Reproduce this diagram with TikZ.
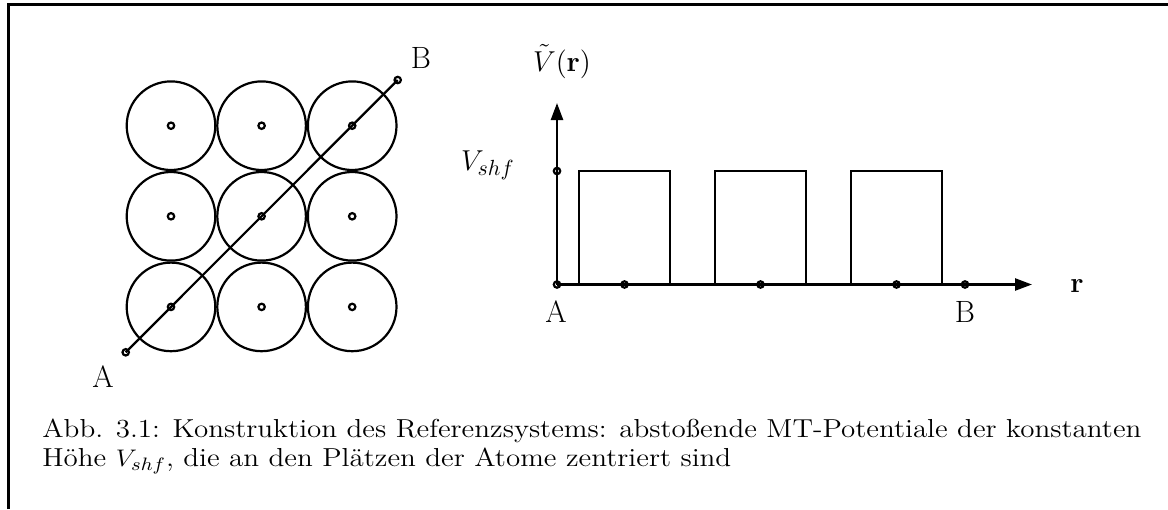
\documentclass[tikz,border=0pt]{standalone}
\usepackage{amsmath}
\usepackage{amssymb}
\usepackage{graphicx}
\usetikzlibrary{arrows.meta}

\begin{document}
\begin{tikzpicture}[x=0.5pt, y=-0.5pt, >={Triangle[length=8.5pt, width=6pt]},
    linie/.style={line width=1.1pt},
    achse/.style={line width=1.2pt, ->},
    platz/.style={line width=1.1pt},
    beschr/.style={font=\fontsize{15.4}{18}\selectfont, inner sep=0pt, anchor=base},
    unterschrift/.style={font=\fontsize{13}{16}\selectfont, inner sep=0pt, anchor=base west}]
    % ============================================================
    % 1 px der Vorlage = 0.5pt, y nach unten
    % Gitterabstand 90.6, Potentialperiode auf der Achse 136
    % ============================================================
    \useasboundingbox (0,0) rectangle (1168,509);

    % === RAHMEN ===
    \draw[line width=1.5pt] (8,509) -- (8,4) -- (1168,4);

    % === 1. GITTER: 3x3 MT-Kugeln mit Atomplaetzen ===
    \foreach \i in {0,1,2} {
        \foreach \j in {0,1,2} {
            \pgfmathsetmacro{\xs}{171 + \i * 90.6}
            \pgfmathsetmacro{\ys}{125.7 + \j * 90.6}
            \draw[linie] (\xs, \ys) circle[radius=22.15pt];
            \draw[platz] (\xs, \ys) circle[radius=1.6pt];
        }
    }

    % === 2. DIAGONALE A -- B ===
    \coordinate (A) at (125.7, 352.3);
    \coordinate (B) at (397.7, 80);
    \draw[linie] (A) -- (B);
    \draw[platz] (A) circle[radius=1.6pt];
    \draw[platz] (B) circle[radius=1.6pt];
    \node[beschr] (labA) at (103, 387) {A};
    \node[beschr] (labB) at (421, 68) {B};

    % === 3. ACHSEN ===
    \coordinate (O) at (557, 284.5);
    \coordinate (Vtop) at (557, 103);
    \coordinate (Rend) at (1032, 284.5);
    \draw[achse] (O) -- (Vtop);
    \draw[achse] (O) -- (Rend);

    % === 4. KASTENPOTENTIALE der Hoehe V_shf ===
    % Mitte = Atomplatz, halbe Breite 45.5
    \foreach \m in {624.5, 760.5, 896.5} {
        \draw[linie] ({\m - 45.5}, 284.5) -- ({\m - 45.5}, 171)
            -- ({\m + 45.5}, 171) -- ({\m + 45.5}, 284.5);
        \draw[platz] (\m, 284.5) circle[radius=1.6pt];
    }
    \draw[platz] (O) circle[radius=1.6pt];
    \draw[platz] (557, 171) circle[radius=1.6pt];
    \draw[platz] (965, 284.5) circle[radius=1.6pt];

    % === 5. BESCHRIFTUNG ===
    \node[beschr] (tV) at (562, 71) {$\tilde{V}(\mathbf{r})$};
    \node[beschr, anchor=base east] (Vshf) at (515, 170) {$V_{shf}$};
    \node[beschr] (rlab) at (1077, 292) {$\mathbf{r}$};
    \node[beschr] (plotA) at (556, 322.7) {A};
    \node[beschr] (plotB) at (965, 322.7) {B};

    % === 6. BILDUNTERSCHRIFT (etwas breit gezogen wie im Original) ===
    \node[unterschrift] (cap1) at (42, 437)
        {\scalebox{1.117}[1]{Abb. 3.1: Konstruktion des Referenzsystems: abstoßende MT-Potentiale der konstanten}};
    \node[unterschrift] (cap2) at (42, 466)
        {\scalebox{1.117}[1]{Höhe $V_{shf}$, die an den Plätzen der Atome zentriert sind}};

\end{tikzpicture}
\end{document}
